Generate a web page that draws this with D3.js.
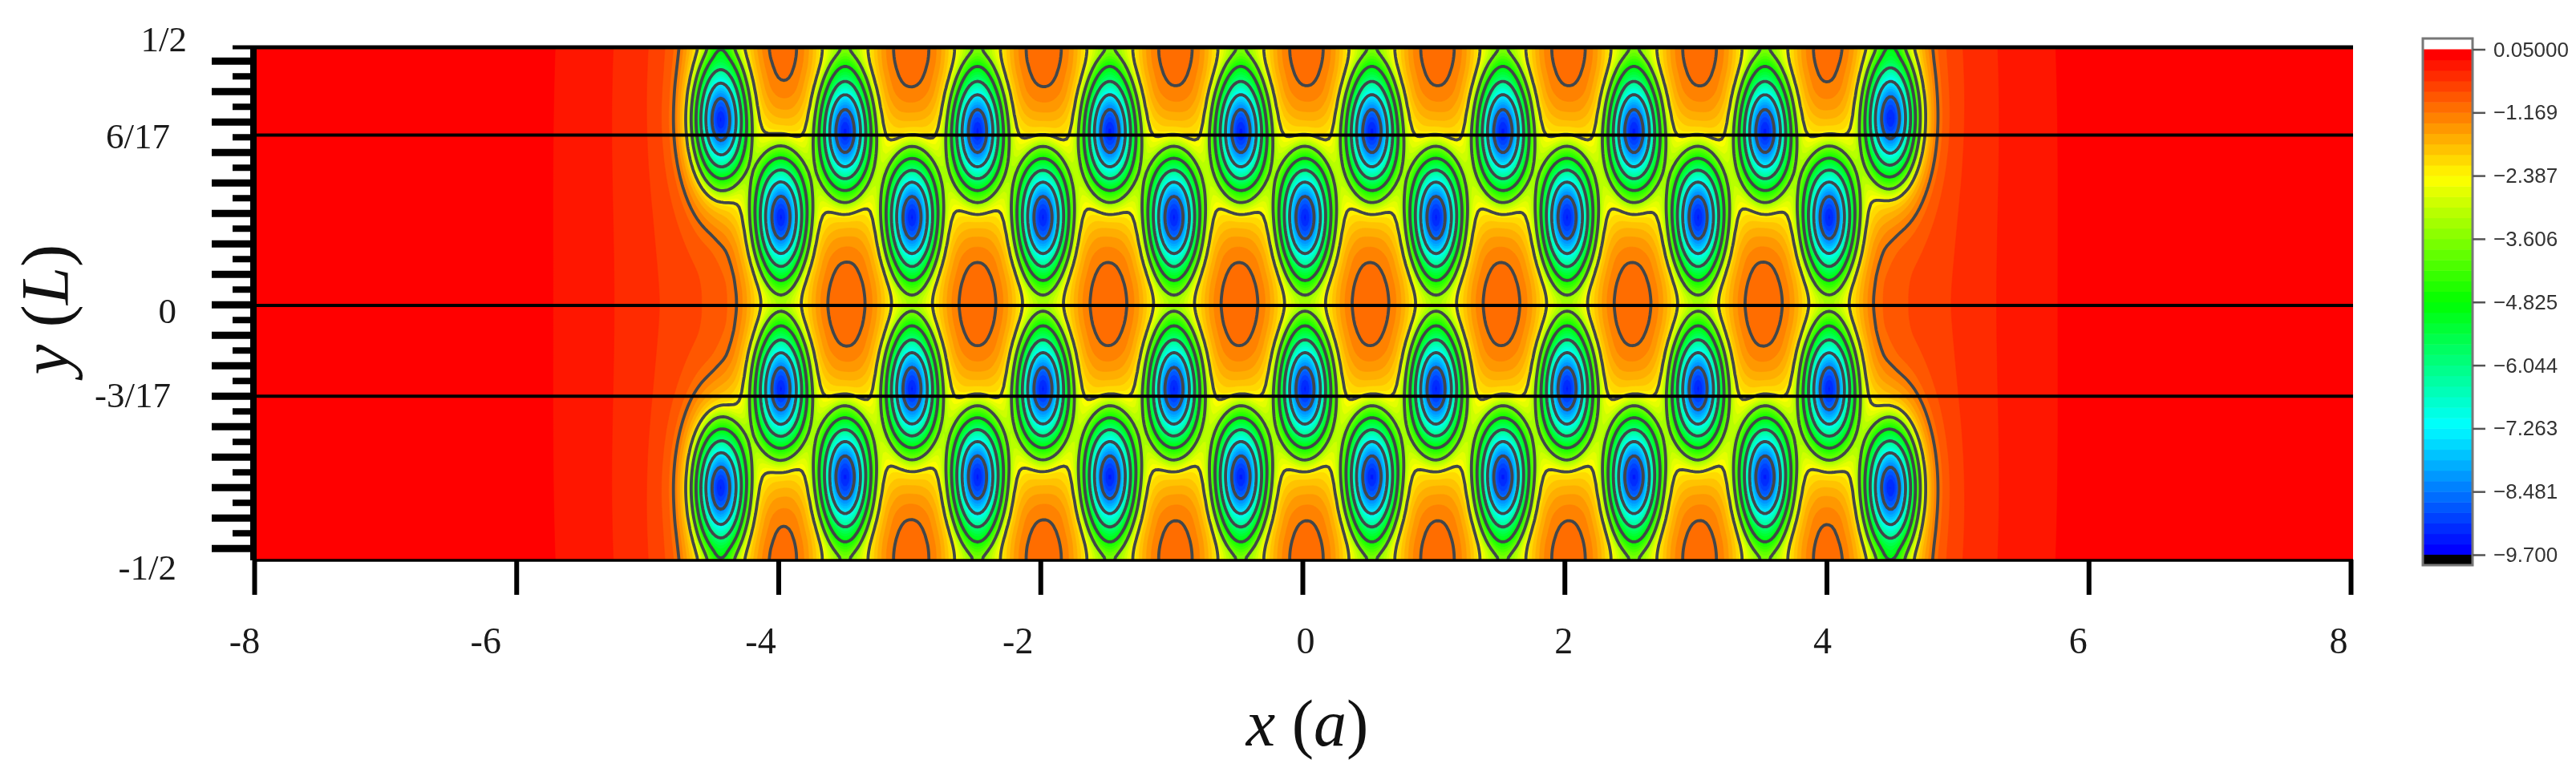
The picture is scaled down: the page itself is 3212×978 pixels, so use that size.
<!DOCTYPE html>
<html>
<head>
<meta charset="utf-8">
<script src="https://cdn.jsdelivr.net/npm/d3@7"></script>
<style>
html,body{margin:0;padding:0;background:#fff}
svg{display:block;filter:blur(0.6px)}
</style>
</head>
<body>
<svg id="c" width="3212" height="978"></svg>
<script>
// ---- values ----
const xTicks = [-8,-6,-4,-2,0,2,4,6,8];
const xTickLabels = ["-8","-6","-4","-2","0","2","4","6","8"];
const yLabels = ["1/2","6/17","0","-3/17","-1/2"];
const yLabelValues = [0.52,0.33,-0.0126,-0.1775,-0.5155];
const lineValues = [0.332,-0.002,-0.18];
const colorbarTicks = [0.05,-1.169,-2.387,-3.606,-4.825,-6.044,-7.263,-8.481,-9.7];
const colorbarLabels = ["0.05000","\u22121.169","\u22122.387","\u22123.606","\u22124.825","\u22126.044","\u22127.263","\u22128.481","\u22129.700"];
const contourLevels = [-1.169,-2.387,-3.606,-4.825,-6.044,-7.263,-8.481];

// Vortex core positions (x in a, y in L), row by row, top to bottom
const row1X = [-4.44,-3.49,-2.48,-1.47,-0.47,0.53,1.53,2.53,3.53,4.49];
const row1Y = [0.361,0.339,0.339,0.339,0.339,0.339,0.339,0.339,0.339,0.364];
const row2X = [-3.98,-2.98,-1.98,-0.98,0.02,1.02,2.02,3.02,4.02];
const row2Y = [0.1705,0.1705,0.1705,0.1705,0.1705,0.1705,0.1705,0.1705,0.1705];
const row3X = [-3.98,-2.98,-1.98,-0.98,0.02,1.02,2.02,3.02,4.02];
const row3Y = [-0.1654,-0.1654,-0.1654,-0.1654,-0.1654,-0.1654,-0.1654,-0.1654,-0.1654];
const row4X = [-4.44,-3.49,-2.48,-1.47,-0.47,0.53,1.53,2.53,3.53,4.49];
const row4Y = [-0.3585,-0.338,-0.338,-0.338,-0.338,-0.338,-0.338,-0.338,-0.338,-0.3585];

const wellRadius = [0,0.073,0.116,0.153,0.19,0.23,0.266,0.306,0.33,0.367,0.428,0.471,0.526,0.575,0.734];
const wellDepth  = [8.83,7.61,6.39,5.17,3.96,2.74,1.4,0.85,0.68,0.42,0.18,0.11,0.04,0.02,0];

// Layout
const W=3212,H=978;
const L=317,R=2931,T=61.5,B=698,PR=2934;
const x = d3.scaleLinear().domain([-8,8]).range([L,R]);
const y = d3.scaleLinear().domain([-0.5,0.5]).range([B,T]);
const svg = d3.select("#c");
const serif = "'Liberation Serif','Times New Roman',serif";
const sans = "'Liberation Sans',Arial,sans-serif";

// Field sampled from the cores above
const vort = [];
[[row1X,row1Y],[row2X,row2Y],[row3X,row3Y],[row4X,row4Y]].forEach(([xs,ys])=>{
  xs.forEach((vx,i)=>{
    const imgW = Math.abs(vx)>4.3 ? 0.55 : 1;
    vort.push([vx,ys[i],1]);
    vort.push([vx,ys[i]+1,imgW]);
    vort.push([vx,ys[i]-1,imgW]);
  });
});
const depthAt = d3.scaleLinear().domain(wellRadius).range(wellDepth).clamp(true);
const ky=1.6576, tailLen=0.40, tailAmp=1.5, floor=0.87;
const gx0=-8.2,gdx=0.02,gy0=-0.53,gdy=0.005;
const nx=821,ny=213;
const vals=new Float64Array(nx*ny);
const rMax=wellRadius[wellRadius.length-1];
for(let j=0;j<ny;j++){
  const py=gy0+j*gdy;
  for(let i=0;i<nx;i++){
    const px=gx0+i*gdx;
    let g=0,q=0;
    for(let k=0;k<vort.length;k++){
      const v=vort[k];
      const dx=px-v[0],dy=(py-v[1])*ky;
      const r=Math.sqrt(dx*dx+dy*dy);
      q+=v[2]*tailAmp*Math.exp(-r/tailLen);
      if(r<rMax) g+=v[2]*depthAt(r);
    }
    vals[j*nx+i]=Math.max(-9.65,-(g+floor*(1-Math.exp(-q))));
  }
}
if(d3.blur2) d3.blur2({data:vals,width:nx,height:ny},0.8);

const proj=d3.geoTransform({point(a,b){
  this.stream.point(x(gx0+(a-0.5)*gdx),y(gy0+(b-0.5)*gdy));
}});
const path=d3.geoPath(proj);

// Colours
const rainbow=d3.scaleLinear().domain([0,0.25,0.5,0.75,1])
  .range(["#ff0000","#ffff00","#00ff00","#00ffff","#0000ff"]);
const nBands=48;
const bandStep=(0.05+9.7)/nBands;
const bandEdges=d3.range(nBands).map(i=>-9.7+i*bandStep); // ascending
const bandColor=i=>rainbow(1-i/(nBands-1));

const defs=svg.append("defs");
defs.append("clipPath").attr("id","plot").append("rect")
  .attr("x",L).attr("y",T).attr("width",PR-L).attr("height",B-T);

const plot=svg.append("g").attr("clip-path","url(#plot)");
plot.append("rect").attr("x",L).attr("y",T).attr("width",PR-L).attr("height",B-T).attr("fill",bandColor(0));
const contours=d3.contours().size([nx,ny]).smooth(true);
plot.append("g").selectAll("path")
  .data(contours.thresholds(bandEdges)(vals))
  .join("path")
  .attr("d",path)
  .attr("fill",(d,i)=>bandColor(i))
  .attr("stroke",(d,i)=>bandColor(i))
  .attr("stroke-width",0.6);
plot.append("g").selectAll("path")
  .data(contours.thresholds(contourLevels.slice().reverse())(vals))
  .join("path")
  .attr("d",path)
  .attr("fill","none")
  .attr("stroke","#42464a")
  .attr("stroke-width",3.8)
  .attr("stroke-linejoin","round");

// Horizontal reference lines
svg.append("g").selectAll("line").data(lineValues).join("line")
  .attr("x1",L).attr("x2",PR)
  .attr("y1",d=>y(d)).attr("y2",d=>y(d))
  .attr("stroke","#000").attr("stroke-width",4);

// Frame lines
svg.append("line").attr("x1",290).attr("x2",PR).attr("y1",59).attr("y2",59).attr("stroke","#000").attr("stroke-width",5);
svg.append("line").attr("x1",L).attr("x2",PR).attr("y1",699).attr("y2",699).attr("stroke","#000").attr("stroke-width",3.5);
svg.append("line").attr("x1",316).attr("x2",316).attr("y1",57).attr("y2",699).attr("stroke","#000").attr("stroke-width",8);

// Axes
const axB=d3.axisBottom(x).tickValues(xTicks).tickSize(44).tickFormat("");
const gB=svg.append("g").attr("transform",`translate(0,${B})`).call(axB);
gB.select(".domain").remove();
gB.selectAll("line").attr("stroke","#000").attr("stroke-width",6);

const yStep=38/636.5;
const majorK=d3.range(-8,9).map(k=>k*yStep);
const minorK=d3.range(-8,8).map(k=>(k+0.5)*yStep);
const axMaj=d3.axisLeft(y).tickValues(majorK).tickSize(53).tickFormat("");
const gMaj=svg.append("g").attr("transform",`translate(${L},0)`).call(axMaj);
gMaj.select(".domain").remove();
gMaj.selectAll("line").attr("stroke","#000").attr("stroke-width",9);
const axMin=d3.axisLeft(y).tickValues(minorK).tickSize(27).tickFormat("");
const gMin=svg.append("g").attr("transform",`translate(${L},0)`).call(axMin);
gMin.select(".domain").remove();
gMin.selectAll("line").attr("stroke","#000").attr("stroke-width",8);

// Tick labels
const xLabelShift=[-12,-38,-22,-28,4,-1,-5,-13,-15];
svg.append("g").selectAll("text").data(xTicks).join("text")
  .attr("x",(d,i)=>x(d)+xLabelShift[i]).attr("y",815)
  .attr("text-anchor","middle").attr("font-family",serif).attr("font-size",46).attr("fill","#1a1a1a")
  .text((d,i)=>xTickLabels[i]);
const yLabelRight=[233,212,220,213,220];
svg.append("g").selectAll("text").data(yLabels).join("text")
  .attr("x",(d,i)=>yLabelRight[i]).attr("y",(d,i)=>y(yLabelValues[i])+15)
  .attr("text-anchor","end").attr("font-family",serif).attr("font-size",45).attr("fill","#1a1a1a")
  .text(d=>d);

// Axis titles
const xt=svg.append("text").attr("x",1630).attr("y",930).attr("text-anchor","middle")
  .attr("font-family",serif).attr("font-size",82).attr("fill","#111");
xt.append("tspan").attr("font-style","italic").text("x");
xt.append("tspan").text(" (");
xt.append("tspan").attr("font-style","italic").text("a");
xt.append("tspan").text(")");
const yt=svg.append("text").attr("transform","translate(85,386) rotate(-90)").attr("text-anchor","middle")
  .attr("font-family",serif).attr("font-size",85).attr("fill","#111");
yt.append("tspan").attr("font-style","italic").text("y");
yt.append("tspan").text(" (");
yt.append("tspan").attr("font-style","italic").text("L");
yt.append("tspan").text(")");

// Colour bar
const cb=d3.scaleLinear().domain([0.05,-9.7]).range([61.5,692]);
const cbX=3021,cbW=62;
const cbG=svg.append("g");
cbG.selectAll("rect.band").data(bandEdges).join("rect").attr("class","band")
  .attr("x",cbX).attr("width",cbW)
  .attr("y",d=>cb(d+bandStep)).attr("height",d=>cb(d)-cb(d+bandStep)+0.5)
  .attr("fill",(d,i)=>bandColor(i));
cbG.append("rect").attr("x",cbX).attr("y",cb(-9.7)).attr("width",cbW).attr("height",705-cb(-9.7)).attr("fill","#000");
cbG.append("rect").attr("x",cbX).attr("y",48).attr("width",cbW).attr("height",705-48)
  .attr("fill","none").attr("stroke","#777").attr("stroke-width",3);
const axC=d3.axisRight(cb).tickValues(colorbarTicks).tickSize(16).tickFormat("");
const gC=svg.append("g").attr("transform",`translate(${cbX+cbW},0)`).call(axC);
gC.select(".domain").remove();
gC.selectAll("line").attr("stroke","#555").attr("stroke-width",2.5);
svg.append("g").selectAll("text").data(colorbarTicks).join("text")
  .attr("x",3109).attr("y",d=>cb(d)+9)
  .attr("font-family",sans).attr("font-size",26).attr("fill","#333")
  .text((d,i)=>colorbarLabels[i]);
</script>
</body>
</html>
